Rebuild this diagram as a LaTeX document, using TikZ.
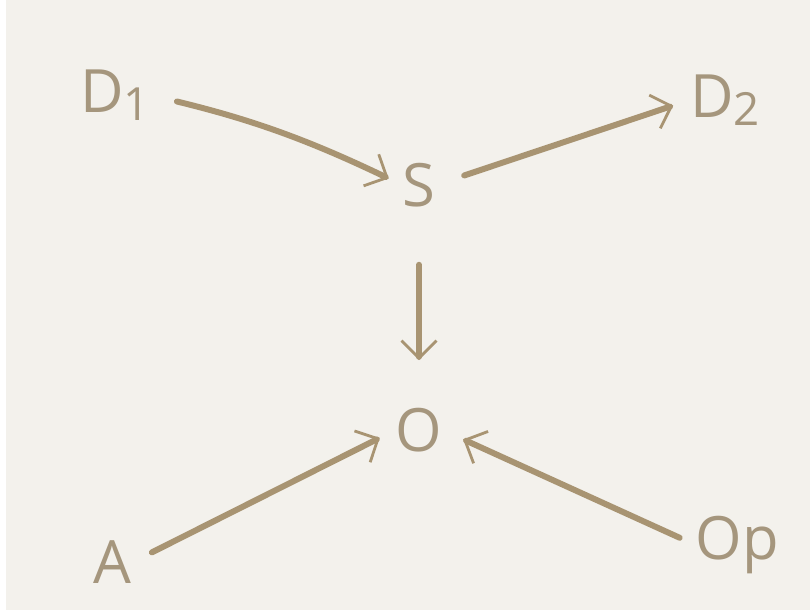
\documentclass[tikz,border=0pt]{standalone}
\usepackage{fontspec}
\setmainfont{Open Sans}
\usetikzlibrary{arrows.meta,calc}
\definecolor{paper}{RGB}{243,241,236}
\definecolor{ink}{RGB}{168,148,114}
\definecolor{letter}{RGB}{165,150,125}
\tikzset{%
  >={Straight Barb[length=3.5mm,width=7mm,line width=1.6pt]},
  % Specifications for style of nodes:
  term/.style = {text=letter, inner sep=0pt,
                 font=\fontsize{34}{38}\selectfont},
  conn/.style = {->, draw=ink, line width=3.4pt, line cap=round},
}
\newcommand{\idx}[1]{\raisebox{-0.25ex}{\fontsize{26}{28}\selectfont #1}}

\begin{document}
\begin{tikzpicture}
  % background of the page
  \fill[paper] (0,0) rectangle (16.2,12.2);
  \fill[white] (0,0) rectangle (0.12,12.2);
  \useasboundingbox (0,0) rectangle (16.2,12.2);

  % Specification of nodes (position, etc.)
  \node (d1) [term] at (2.3,10.3) {D\idx{1}};
  \node (d2) [term] at (14.5,10.2) {D\idx{2}};
  \node (s)  [term] at (8.38,8.5) {S};
  \node (o)  [term] at (8.38,3.6) {O};
  \node (a)  [term] at (2.25,0.95) {A};
  \node (op) [term] at (14.75,1.3) {Op};

  % Specification of lines between nodes specified above
  \draw[conn, shorten <=0.55cm, shorten >=0.3cm] (d1.east) to[bend left=6] (s.west);
  \draw[conn, shorten <=0.6cm, shorten >=0.35cm] (s.east) -- (d2.west);
  \draw[conn, shorten <=1.15cm, shorten >=0.95cm] (s) -- (o);
  \draw[conn, shorten <=0.45cm, shorten >=0.35cm] (a.east) -- (o.west);
  \draw[conn, shorten <=0.35cm, shorten >=0.45cm] (op.west) -- (o.east);
\end{tikzpicture}
\end{document}
